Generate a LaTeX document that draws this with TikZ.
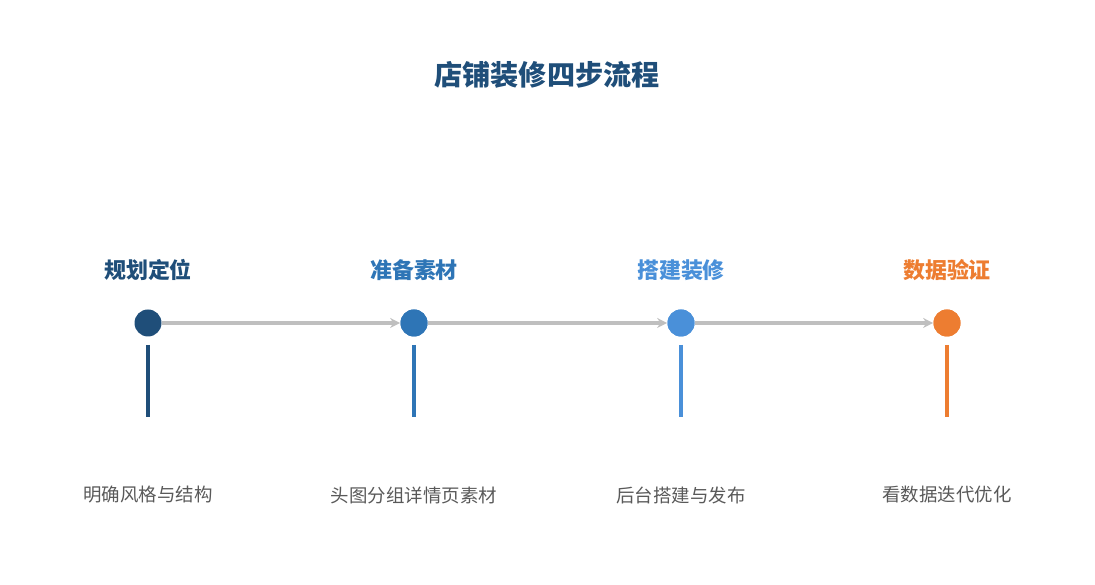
\documentclass[tikz,border=0pt]{standalone}
\usepackage{fontspec}
\newfontfamily\cjk{Noto Sans CJK SC}
\usetikzlibrary{positioning, arrows.meta}
\definecolor{stepa}{RGB}{31,78,121}
\definecolor{stepb}{RGB}{46,117,182}
\definecolor{stepc}{RGB}{74,144,217}
\definecolor{stepd}{RGB}{237,125,49}
\definecolor{linegray}{RGB}{191,191,191}
\definecolor{textgray}{RGB}{89,89,89}
\tikzset{
  dot/.style={circle, inner sep=0, minimum size=0.54cm},
  steplabel/.style={font=\cjk\bfseries\fontsize{12.5}{14}\selectfont},
  desc/.style={font=\cjk\fontsize{10.5}{12}\selectfont, text=textgray},
  flow/.style={-{Stealth[length=2mm,width=2mm]}, line width=1.8pt, draw=linegray}
}
\begin{document}
\begin{tikzpicture}
\useasboundingbox (0,0) rectangle (21.9,11.7);

\node[font=\cjk\bfseries\fontsize{16}{19}\selectfont, text=stepa] (title) at (10.94,10.2) {店铺装修四步流程};

% steps
\foreach \i/\x/\col/\lab/\txt in {1/2.96/stepa/规划定位/明确风格与结构,
    2/8.28/stepb/准备素材/头图分组详情页素材,
    3/13.62/stepc/搭建装修/后台搭建与发布,
    4/18.94/stepd/数据验证/看数据迭代优化}{
  \node[dot, fill=\col] (d\i) at (\x,5.24) {};
  \node[steplabel, text=\col] (l\i) at (\x,6.3) {\lab};
  \coordinate (t\i) at (\x,4.8);
  \coordinate (b\i) at (\x,3.36);
  \draw[draw=\col, line width=2.2pt] (t\i) -- (b\i);
  \node[desc] (s\i) at (\x,1.8) {\txt};
}

% connectors
\foreach \a/\b in {1/2, 2/3, 3/4}
  \draw[flow] (d\a) -- (d\b);
\foreach \i/\col in {2/stepb, 3/stepc, 4/stepd}
  \node[dot, fill=\col] at (d\i) {};
\end{tikzpicture}
\end{document}
